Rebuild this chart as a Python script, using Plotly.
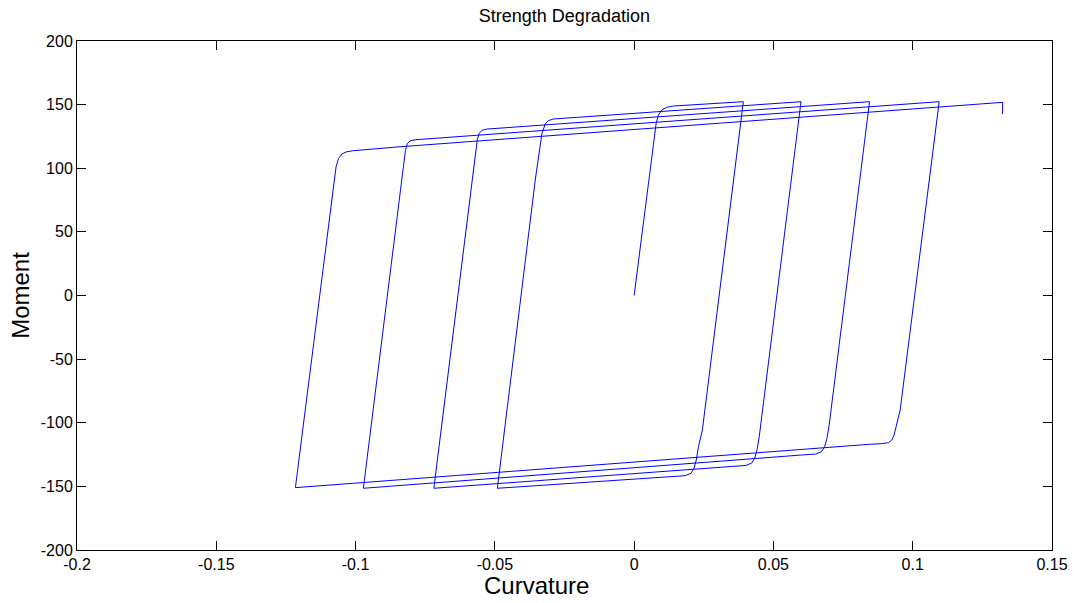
import plotly.graph_objects as go

# Path of the hysteresis curve, branch by branch
load0_x = [0.0, 0.0057, 0.0079, 0.0087, 0.0099, 0.0117, 0.0141, 0.0392]
load0_y = [0.0, 98.6, 135.3, 141.8, 145.8, 147.9, 148.9, 152.3]

unload1_x = [0.0245, 0.0231, 0.0223, 0.0215, 0.0204, 0.0183, 0.0129, -0.0491]
unload1_y = [-105.7, -118.8, -129.3, -135.8, -139.7, -141.6, -142.4, -151.5]

reload2_x = [-0.0355, -0.0331, -0.0319, -0.0308, -0.0290, 0.0599]
reload2_y = [90.8, 127.5, 134.8, 137.4, 138.7, 152.3]

unload2_x = [0.0449, 0.0441, 0.0433, 0.0422, 0.0401, 0.0347, -0.0719]
unload2_y = [-111.0, -121.3, -127.8, -131.7, -133.6, -134.4, -151.5]

reload3_x = [-0.0569, -0.0563, -0.0556, -0.0546, -0.0528, 0.0845]
reload3_y = [110.5, 122.5, 127.5, 129.8, 130.8, 152.3]

unload3_x = [0.0700, 0.0692, 0.0684, 0.0673, 0.0652, 0.0598, -0.0972]
unload3_y = [-102.0, -112.3, -118.8, -122.7, -124.6, -125.4, -151.5]

reload4_x = [-0.0827, -0.0821, -0.0814, -0.0804, -0.0786, 0.1095]
reload4_y = [102.0, 114.0, 119.5, 121.5, 122.4, 152.3]

unload4_x = [0.0955, 0.0940, 0.0933, 0.0925, 0.0913, 0.0883, 0.0847, -0.1216]
unload4_y = [-90.0, -104.4, -109.6, -113.6, -115.7, -116.5, -116.9, -151.0]

reload5_x = [-0.1088, -0.1070, -0.1061, -0.1049, -0.1031, -0.1008, -0.0840, 0.1323, 0.1322]
reload5_y = [67.2, 101.2, 107.8, 111.2, 113.0, 113.8, 116.9, 151.8, 142.6]

curvature = (load0_x + unload1_x + reload2_x + unload2_x + reload3_x
             + unload3_x + reload4_x + unload4_x + reload5_x)
moment = (load0_y + unload1_y + reload2_y + unload2_y + reload3_y
          + unload3_y + reload4_y + unload4_y + reload5_y)

x_ticks = [-0.2, -0.15, -0.1, -0.05, 0, 0.05, 0.1, 0.15]
x_labels = ["-0.2", "-0.15", "-0.1", "-0.05", "0", "0.05", "0.1", "0.15"]
y_ticks = [-200, -150, -100, -50, 0, 50, 100, 150, 200]
y_labels = ["-200", "-150", "-100", "-50", "0", "50", "100", "150", "200"]

FONT = "Liberation Sans, Arial, sans-serif"

fig = go.Figure()
fig.add_trace(go.Scatter(x=curvature, y=moment, mode="lines",
                         line=dict(color="#0000FF", width=1),
                         showlegend=False, hoverinfo="x+y"))

axis_common = dict(showgrid=False, zeroline=False, showline=True,
                   linecolor="black", linewidth=1, mirror="ticks",
                   ticks="inside", ticklen=9, tickcolor="black", tickwidth=1,
                   automargin=False,
                   tickfont=dict(family=FONT, size=16, color="black"))

fig.update_layout(
    width=1074, height=603,
    margin=dict(l=77, r=22, t=41, b=53, autoexpand=False),
    paper_bgcolor="white", plot_bgcolor="white",
    title=dict(text="Strength Degradation", x=0.5255, xanchor="center",
               y=1 - 16 / 603, yref="container", yanchor="middle",
               font=dict(family=FONT, size=18, color="black")),
    xaxis=dict(range=[-0.2, 0.15], tickvals=x_ticks, ticktext=x_labels,
               **axis_common),
    yaxis=dict(range=[-200, 200], tickvals=y_ticks, ticktext=y_labels,
               title=dict(text="Moment", standoff=4,
                          font=dict(family=FONT, size=24, color="black")),
               **axis_common),
    annotations=[dict(text="Curvature", xref="paper", yref="paper",
                      x=0.4708, y=-0.0688, xanchor="center", yanchor="middle",
                      showarrow=False,
                      font=dict(family=FONT, size=24, color="black"))],
)

fig.write_html("out.html")
